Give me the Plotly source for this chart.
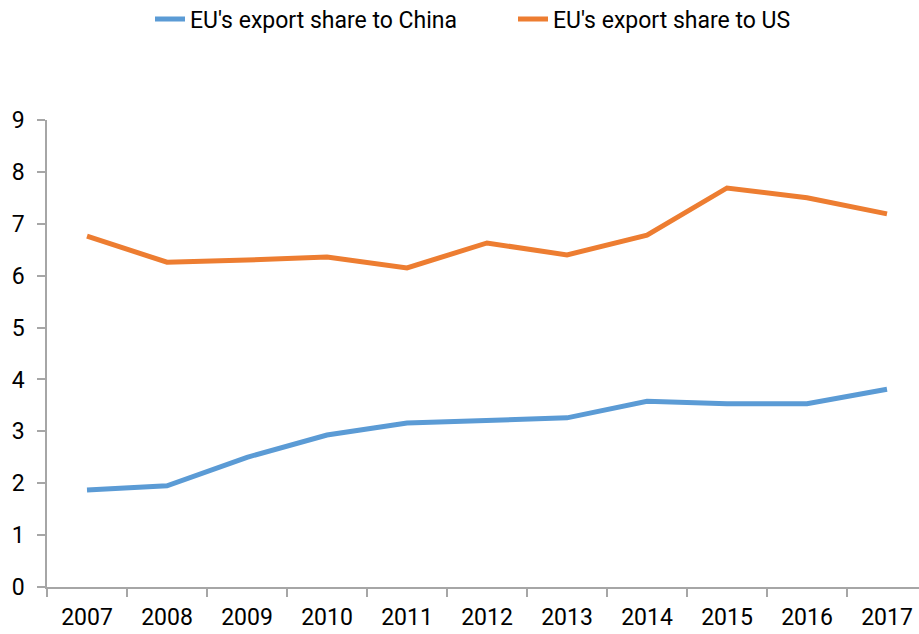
import plotly.graph_objects as go

years = ["2007", "2008", "2009", "2010", "2011", "2012", "2013", "2014", "2015", "2016", "2017"]
china = [1.87, 1.95, 2.50, 2.93, 3.16, 3.22, 3.26, 3.58, 3.53, 3.53, 3.81]
us = [6.76, 6.26, 6.30, 6.36, 6.15, 6.63, 6.40, 6.78, 7.69, 7.50, 7.19]

fig = go.Figure()
fig.add_trace(go.Scatter(x=years, y=china, mode="lines", name="EU's export share to China",
                         line=dict(color="#5B9BD5", width=5)))
fig.add_trace(go.Scatter(x=years, y=us, mode="lines", name="EU's export share to US",
                         line=dict(color="#ED7D31", width=5)))

axis_col = "#A6A6A6"
fig.update_layout(
    width=919, height=634,
    margin=dict(l=47, r=0, t=120, b=47, autoexpand=False),
    paper_bgcolor="white", plot_bgcolor="white",
    font=dict(family="Roboto", size=23, color="#000000"),
    showlegend=True,
    legend=dict(orientation="h", x=(150 - 47) / 872, xanchor="left", y=(587 - 19) / 467,
                yanchor="middle", font=dict(size=23), itemwidth=30, traceorder="normal",
                entrywidth=318, entrywidthmode="pixels"),
    xaxis=dict(type="category", range=[-0.5, 10.4], showgrid=False, showline=True,
               linecolor=axis_col, linewidth=1.5, ticks="outside", tickson="boundaries",
               ticklen=8, tickcolor=axis_col, tickwidth=1.5, ticklabelstandoff=9,
               zeroline=False, automargin=False),
    yaxis=dict(range=[0, 9], dtick=1, showgrid=False, showline=True,
               linecolor=axis_col, linewidth=1.5, ticks="outside", ticklen=8,
               tickcolor=axis_col, tickwidth=1.5, ticklabelstandoff=8,
               zeroline=False, automargin=False),
)

fig.write_html("out.html", config={"displayModeBar": False},
               post_script="document.body.style.margin='0';document.body.style.overflow='hidden';")
